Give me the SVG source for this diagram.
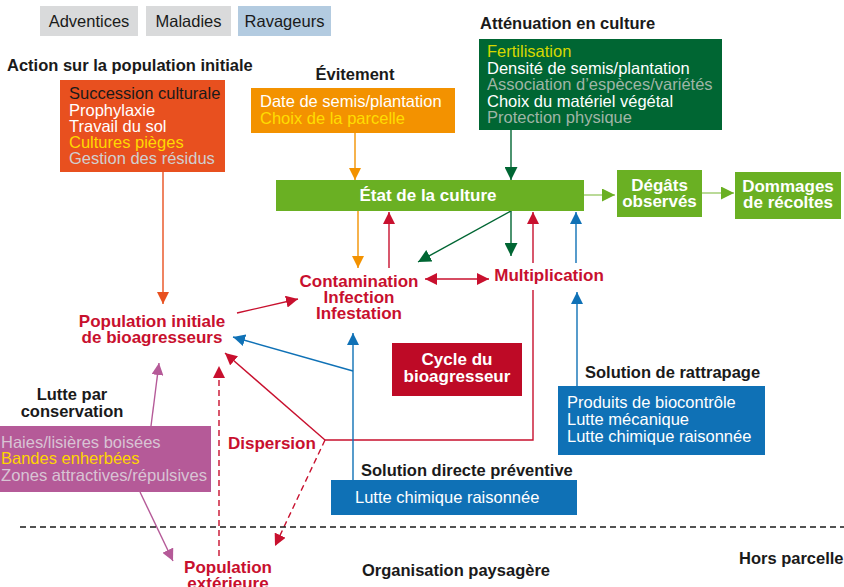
<svg xmlns="http://www.w3.org/2000/svg" width="844" height="587" viewBox="0 0 844 587">
<defs>
<style>
text{font-family:"Liberation Sans",Arial,sans-serif}
.h{font-weight:bold;font-size:16.5px;fill:#1a1a1a}
.b{font-size:16.5px}
.w{fill:#ffffff}
.r{font-weight:bold;font-size:17px;fill:#c8102e}
.bw{font-weight:bold;font-size:17px;fill:#ffffff}
.tag{font-size:16.5px;fill:#1a1a1a}
.c{fill:none;stroke-width:1.4}
</style>
<marker id="aOr" viewBox="0 0 12 12" refX="12" refY="6" markerWidth="12" markerHeight="12" markerUnits="userSpaceOnUse" orient="auto"><path d="M0,0L12,6L0,12z" fill="#e8501f"/></marker>
<marker id="aO" viewBox="0 0 12 12" refX="12" refY="6" markerWidth="12" markerHeight="12" markerUnits="userSpaceOnUse" orient="auto"><path d="M0,0L12,6L0,12z" fill="#f39200"/></marker>
<marker id="aG" viewBox="0 0 12 12" refX="12" refY="6" markerWidth="13" markerHeight="13" markerUnits="userSpaceOnUse" orient="auto"><path d="M0,0L12,6L0,12z" fill="#006633"/></marker>
<marker id="aL" viewBox="0 0 12 12" refX="12" refY="6" markerWidth="13" markerHeight="13" markerUnits="userSpaceOnUse" orient="auto"><path d="M0,0L12,6L0,12z" fill="#6ab023"/></marker>
<marker id="aR" viewBox="0 0 12 12" refX="12" refY="6" markerWidth="12" markerHeight="12" markerUnits="userSpaceOnUse" orient="auto-start-reverse"><path d="M0,0L12,6L0,12z" fill="#c8102e"/></marker>
<marker id="aB" viewBox="0 0 12 12" refX="12" refY="6" markerWidth="12" markerHeight="12" markerUnits="userSpaceOnUse" orient="auto"><path d="M0,0L12,6L0,12z" fill="#0f71b6"/></marker>
<marker id="aP" viewBox="0 0 12 12" refX="12" refY="6" markerWidth="12" markerHeight="12" markerUnits="userSpaceOnUse" orient="auto"><path d="M0,0L12,6L0,12z" fill="#b55a98"/></marker>
</defs>
<rect width="844" height="587" fill="#ffffff"/>

<g id="tags">
<rect x="40" y="6" width="98" height="30" fill="#d9dadb"/>
<text class="tag" x="89" y="27" text-anchor="middle">Adventices</text>
<rect x="146" y="6" width="85" height="30" fill="#d9dadb"/>
<text class="tag" x="188.5" y="27" text-anchor="middle">Maladies</text>
<rect x="238" y="6" width="93" height="30" fill="#b3cbe0"/>
<text class="tag" x="284.5" y="27" text-anchor="middle">Ravageurs</text>
</g>

<g id="connectors">
<path class="c" d="M163,172V304" stroke="#e8501f" marker-end="url(#aOr)"/>
<path class="c" d="M355,133V180" stroke="#f39200" marker-end="url(#aO)"/>
<path class="c" d="M511,130V180" stroke="#006633" marker-end="url(#aG)"/>
<path class="c" d="M584,195H615" stroke="#9ccb6c" stroke-width="2" marker-end="url(#aL)"/>
<path class="c" d="M702,193H734" stroke="#9ccb6c" stroke-width="2" marker-end="url(#aL)"/>
<path class="c" d="M358,211V268" stroke="#f39200" marker-end="url(#aO)"/>
<path class="c" d="M389,268V212" stroke="#c8102e" marker-end="url(#aR)"/>
<path class="c" d="M511,211L418,262" stroke="#006633" marker-end="url(#aG)"/>
<path class="c" d="M511,211V256" stroke="#006633" marker-end="url(#aG)"/>
<path class="c" d="M533,263V212" stroke="#c8102e" marker-end="url(#aR)"/>
<path class="c" d="M576,263V212" stroke="#0f71b6" marker-end="url(#aB)"/>
<path class="c" d="M425,279H489" stroke="#c8102e" marker-start="url(#aR)" marker-end="url(#aR)"/>
<path class="c" d="M237,313L298,299" stroke="#c8102e" marker-end="url(#aR)"/>
<path class="c" d="M533,290V440H325" stroke="#c8102e"/>
<path class="c" d="M325,440L225,353" stroke="#c8102e" marker-end="url(#aR)"/>
<path class="c" d="M325,440L275,546" stroke="#c8102e" stroke-dasharray="6,4" marker-end="url(#aR)"/>
<path class="c" d="M219,556V366" stroke="#c8102e" stroke-dasharray="6,4" marker-end="url(#aR)"/>
<path class="c" d="M353,480V333" stroke="#0f71b6" marker-end="url(#aB)"/>
<path class="c" d="M353,371L233,337" stroke="#0f71b6" marker-end="url(#aB)"/>
<path class="c" d="M577,386V292" stroke="#0f71b6" marker-end="url(#aB)"/>
<path class="c" d="M151,426L159,363" stroke="#b55a98" marker-end="url(#aP)"/>
<path class="c" d="M140,492L173,561" stroke="#b55a98" marker-end="url(#aP)"/>
<path d="M20,527H844" stroke="#1a1a1a" stroke-width="1.4" stroke-dasharray="6,4" fill="none"/>
</g>

<g id="action">
<text class="h" x="7" y="71">Action sur la population initiale</text>
<rect x="60" y="80" width="165" height="92" fill="#e8501f"/>
<text class="b" x="69" y="99" fill="#1a1a1a">Succession culturale</text>
<text class="b w" x="69" y="116">Prophylaxie</text>
<text class="b w" x="69" y="132">Travail du sol</text>
<text class="b" x="69" y="148" fill="#ffd800">Cultures pièges</text>
<text class="b" x="69" y="164" fill="#d0cfcf">Gestion des résidus</text>
</g>

<g id="evitement">
<text class="h" x="355" y="80" text-anchor="middle">Évitement</text>
<rect x="251" y="88" width="204" height="45" fill="#f39200"/>
<text class="b w" x="260" y="107">Date de semis/plantation</text>
<text class="b" x="260" y="124" fill="#ffdd00">Choix de la parcelle</text>
</g>

<g id="attenuation">
<text class="h" x="480" y="29">Atténuation en culture</text>
<rect x="479" y="39" width="243" height="91" fill="#006633"/>
<text class="b" x="487" y="57" fill="#d6d800">Fertilisation</text>
<text class="b w" x="487" y="74">Densité de semis/plantation</text>
<text class="b" x="487" y="90" fill="#9fb5a6">Association d’espèces/variétés</text>
<text class="b w" x="487" y="107">Choix du matériel végétal</text>
<text class="b" x="487" y="123" fill="#9fb5a6">Protection physique</text>
</g>

<g id="etat">
<rect x="276" y="180" width="308" height="31" fill="#6ab023"/>
<text class="bw" x="428" y="201" text-anchor="middle">État de la culture</text>
</g>

<g id="degats">
<rect x="617" y="170" width="85" height="47" fill="#6ab023"/>
<text class="bw" x="659.5" y="191" text-anchor="middle">Dégâts</text>
<text class="bw" x="659.5" y="207" text-anchor="middle">observés</text>
</g>

<g id="dommages">
<rect x="735" y="172" width="106" height="47" fill="#6ab023"/>
<text class="bw" x="788" y="192" text-anchor="middle">Dommages</text>
<text class="bw" x="788" y="208" text-anchor="middle">de récoltes</text>
</g>

<g id="contamination">
<text class="r" x="359" y="287" text-anchor="middle">Contamination</text>
<text class="r" x="359" y="303" text-anchor="middle">Infection</text>
<text class="r" x="359" y="319" text-anchor="middle">Infestation</text>
</g>

<g id="multiplication">
<text class="r" x="549" y="281" text-anchor="middle">Multiplication</text>
</g>

<g id="population-initiale">
<text class="r" x="152" y="327" text-anchor="middle">Population initiale</text>
<text class="r" x="152" y="343" text-anchor="middle">de bioagresseurs</text>
</g>

<g id="cycle">
<rect x="392" y="343" width="130" height="53" fill="#be0a26"/>
<text class="bw" x="457" y="365" text-anchor="middle">Cycle du</text>
<text class="bw" x="457" y="382" text-anchor="middle">bioagresseur</text>
</g>

<g id="conservation">
<text class="h" x="72" y="400" text-anchor="middle">Lutte par</text>
<text class="h" x="72" y="417" text-anchor="middle">conservation</text>
<rect x="0" y="426" width="211" height="66" fill="#b55a98"/>
<text class="b" x="1" y="448" fill="#d8c4d4">Haies/lisières boisées</text>
<text class="b" x="1" y="464" fill="#ffd500">Bandes enherbées</text>
<text class="b" x="1" y="481" fill="#d8c4d4" textLength="206" lengthAdjust="spacingAndGlyphs">Zones attractives/répulsives</text>
</g>

<g id="dispersion">
<text class="r" x="228" y="449">Dispersion</text>
</g>

<g id="rattrapage">
<text class="h" x="585" y="378">Solution de rattrapage</text>
<rect x="558" y="386" width="207" height="69" fill="#0f71b6"/>
<text class="b w" x="567" y="408">Produits de biocontrôle</text>
<text class="b w" x="567" y="425">Lutte mécanique</text>
<text class="b w" x="567" y="442">Lutte chimique raisonnée</text>
</g>

<g id="directe">
<text class="h" x="361" y="476">Solution directe préventive</text>
<rect x="331" y="480" width="246" height="35" fill="#0f71b6"/>
<text class="b w" x="355" y="503">Lutte chimique raisonnée</text>
</g>

<g id="population-exterieure">
<text class="r" x="228" y="573" text-anchor="middle">Population</text>
<text class="r" x="228" y="589" text-anchor="middle">extérieure</text>
</g>

<g id="paysage">
<text class="h" x="362" y="576">Organisation paysagère</text>
</g>
<g id="hors">
<text class="h" x="739" y="564">Hors parcelle</text>
</g>
</svg>
